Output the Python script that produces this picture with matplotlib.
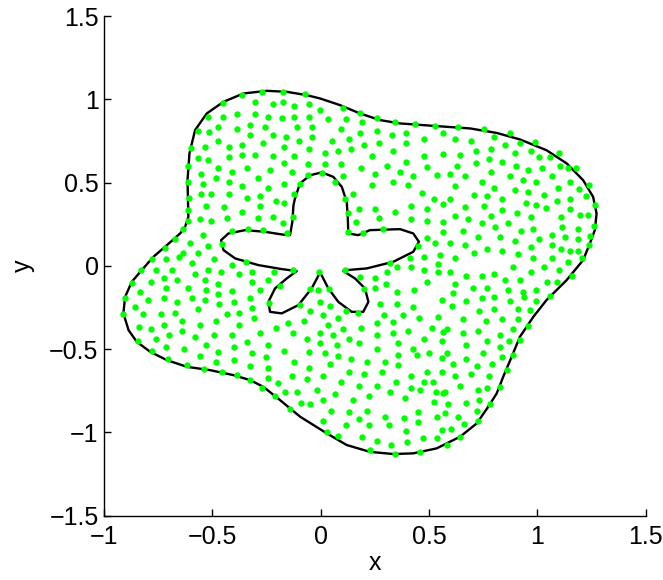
import numpy as np
import matplotlib
matplotlib.use("Agg")
import matplotlib.pyplot as plt

plt.rcParams['font.family'] = ['Liberation Sans', 'DejaVu Sans']

# outer boundary (clockwise from left)
outer_x = [-0.911, -0.903, -0.872, -0.826, -0.772, -0.710, -0.649, -0.626, -0.611, -0.615,
           -0.606, -0.580, -0.526, -0.449, -0.357, -0.249, -0.157, -0.065, -0.003, 0.089,
           0.181, 0.274, 0.366, 0.535, 0.689, 0.812, 0.919, 1.042, 1.135, 1.211,
           1.257, 1.273, 1.265, 1.242, 1.211, 1.173, 1.135, 1.042, 0.981, 0.919,
           0.881, 0.842, 0.812, 0.773, 0.720, 0.643, 0.535, 0.427, 0.335, 0.227,
           0.120, 0.028, -0.095, -0.188, -0.265, -0.326, -0.403, -0.511, -0.618, -0.710,
           -0.787, -0.849, -0.887]
outer_y = [-0.285, -0.186, -0.095, -0.025, 0.055, 0.125, 0.195, 0.235, 0.295, 0.515,
           0.676, 0.816, 0.916, 0.986, 1.036, 1.052, 1.046, 1.026, 1.006, 0.966,
           0.916, 0.876, 0.856, 0.840, 0.826, 0.799, 0.760, 0.695, 0.616, 0.515,
           0.415, 0.315, 0.215, 0.135, 0.035, -0.025, -0.085, -0.205, -0.306, -0.426,
           -0.546, -0.666, -0.766, -0.846, -0.946, -1.026, -1.096, -1.126, -1.130, -1.117,
           -1.076, -1.006, -0.906, -0.806, -0.726, -0.686, -0.656, -0.626, -0.606, -0.566,
           -0.516, -0.456, -0.386]

# inner five-petal hole
inner_x = [0.005, 0.058, 0.097, 0.120, 0.125, 0.127, 0.173, 0.227, 0.366, 0.427,
           0.453, 0.427, 0.335, 0.212, 0.120, 0.104, 0.158, 0.204, 0.220, 0.196,
           0.143, 0.081, 0.035, -0.003, -0.042, -0.103, -0.180, -0.234, -0.242, -0.211,
           -0.157, -0.111, -0.180, -0.288, -0.395, -0.449, -0.460, -0.426, -0.349, -0.257,
           -0.180, -0.142, -0.131, -0.126, -0.119, -0.096, -0.049]
inner_y = [0.562, 0.535, 0.475, 0.385, 0.285, 0.195, 0.185, 0.215, 0.221, 0.195,
           0.145, 0.085, 0.025, -0.015, -0.025, -0.031, -0.075, -0.135, -0.216, -0.276,
           -0.276, -0.216, -0.135, -0.039, -0.135, -0.235, -0.285, -0.276, -0.216, -0.135,
           -0.075, -0.031, -0.019, 0.005, 0.045, 0.095, 0.155, 0.195, 0.215, 0.205,
           0.189, 0.185, 0.265, 0.365, 0.405, 0.495, 0.545]

# green nodes, grouped by area of the picture
dots_nw = [
    [-0.365, 1.026], [-0.269, 1.046], [-0.449, 0.976], [-0.303, 0.986], [-0.219, 0.970],
    [-0.519, 0.896], [-0.449, 0.896], [-0.388, 0.910], [-0.303, 0.910], [-0.245, 0.896],
    [-0.565, 0.810], [-0.514, 0.806], [-0.472, 0.836], [-0.388, 0.822], [-0.326, 0.846],
    [-0.257, 0.834], [-0.326, 0.786], [-0.219, 0.786], [-0.598, 0.706], [-0.532, 0.712],
    [-0.472, 0.750], [-0.423, 0.712], [-0.365, 0.724], [-0.268, 0.736], [-0.568, 0.646],
    [-0.519, 0.638], [-0.423, 0.652], [-0.365, 0.664], [-0.303, 0.664], [-0.219, 0.662],
    [-0.611, 0.600], [-0.472, 0.590], [-0.411, 0.566], [-0.340, 0.590], [-0.233, 0.578],
    [-0.555, 0.554], [-0.485, 0.530], [-0.291, 0.530], [-0.614, 0.502], [-0.543, 0.492],
    [-0.423, 0.502], [-0.365, 0.482], [-0.242, 0.466], [-0.555, 0.432], [-0.506, 0.432],
    [-0.423, 0.432], [-0.340, 0.406], [-0.280, 0.420], [-0.208, 0.391], [-0.531, 0.361],
    [-0.448, 0.357], [-0.280, 0.359], [-0.365, 0.321], [-0.611, 0.339], [-0.558, 0.281],
    [-0.506, 0.271], [-0.435, 0.285], [-0.291, 0.285], [-0.219, 0.295], [-0.634, 0.219],
    [-0.411, 0.211], [-0.337, 0.221], [-0.265, 0.215], [-0.543, 0.185], [-0.672, 0.161],
    [-0.605, 0.135], [-0.519, 0.121], [-0.454, 0.129], [-0.718, 0.105], [-0.634, 0.075],
    [-0.568, 0.075], [-0.777, 0.041], [-0.712, 0.041], [-0.652, 0.051], [-0.592, 0.019],
    [-0.495, 0.039], [-0.411, 0.005], [-0.346, 0.025], [-0.608, 0.410], [-0.612, 0.270],
]
dots_n = [
    [-0.173, 1.042], [-0.073, 1.030], [-0.173, 0.986], [-0.123, 0.960], [-0.053, 0.970],
    [-0.003, 0.936], [0.101, 0.950], [0.181, 0.916], [-0.180, 0.886], [-0.123, 0.896],
    [-0.053, 0.896], [0.032, 0.882], [0.116, 0.882], [0.189, 0.866], [0.261, 0.886],
    [0.342, 0.866], [0.435, 0.850], [0.527, 0.842], [-0.111, 0.836], [-0.040, 0.832],
    [0.092, 0.822], [0.181, 0.800], [0.261, 0.812], [0.393, 0.800], [0.565, 0.800],
    [-0.160, 0.772], [-0.100, 0.750], [-0.040, 0.772], [0.053, 0.752], [0.129, 0.762],
    [0.330, 0.786], [0.476, 0.762], [-0.170, 0.712], [-0.053, 0.702], [0.138, 0.702],
    [0.199, 0.726], [0.270, 0.738], [0.393, 0.738], [-0.123, 0.662], [0.020, 0.676],
    [0.080, 0.690], [0.236, 0.662], [0.332, 0.688], [0.476, 0.662], [0.565, 0.672],
    [-0.170, 0.616], [-0.060, 0.610], [0.020, 0.612], [0.092, 0.612], [0.184, 0.590],
    [0.307, 0.602], [0.393, 0.626], [0.489, 0.596], [-0.134, 0.566], [0.104, 0.540],
    [0.249, 0.552], [0.365, 0.566], [0.427, 0.542], [0.535, 0.546], [0.007, 0.556],
    [-0.170, 0.491], [0.147, 0.435], [0.236, 0.486], [0.335, 0.506], [0.404, 0.486],
    [0.465, 0.441], [0.522, 0.405], [-0.170, 0.381], [0.178, 0.345], [0.250, 0.341],
    [0.344, 0.321], [0.415, 0.361], [0.489, 0.345], [0.565, 0.375], [-0.176, 0.255],
    [0.163, 0.265], [0.270, 0.285], [0.415, 0.281], [0.489, 0.269], [0.562, 0.265],
    [-0.130, 0.295], [-0.057, 0.546], [0.066, 0.506], [0.112, 0.405], [0.127, 0.205],
    [0.196, 0.195], [0.289, 0.221], [-0.154, 0.195], [0.489, 0.165], [0.527, 0.135],
    [0.565, 0.205], [0.319, 0.020], [0.412, 0.045], [0.476, 0.051], [0.550, 0.065],
    [-0.124, 0.430], [0.125, 0.320], [-0.098, 0.490], [0.450, 0.120],
]
dots_ne = [
    [0.635, 0.836], [0.754, 0.822], [0.873, 0.796], [0.619, 0.762], [0.693, 0.750],
    [0.801, 0.772], [0.850, 0.726], [0.920, 0.736], [0.991, 0.746], [0.644, 0.666],
    [0.716, 0.688], [0.788, 0.700], [0.896, 0.676], [0.970, 0.692], [1.007, 0.654],
    [1.059, 0.654], [1.099, 0.676], [0.631, 0.602], [0.716, 0.616], [0.777, 0.640],
    [0.837, 0.626], [0.899, 0.602], [0.957, 0.576], [1.019, 0.590], [1.102, 0.602],
    [1.142, 0.586], [1.180, 0.590], [0.596, 0.554], [0.668, 0.542], [0.788, 0.566],
    [0.873, 0.542], [0.934, 0.516], [0.993, 0.503], [1.065, 0.542], [0.619, 0.481],
    [0.742, 0.503], [0.801, 0.467], [0.896, 0.455], [0.957, 0.443], [1.031, 0.429],
    [1.093, 0.467], [1.151, 0.505], [1.191, 0.465], [1.237, 0.485], [0.596, 0.405],
    [0.705, 0.429], [0.765, 0.419], [0.837, 0.405], [0.947, 0.381], [0.993, 0.365],
    [1.090, 0.393], [1.151, 0.405], [1.222, 0.419], [0.668, 0.355], [0.754, 0.359],
    [0.837, 0.333], [0.908, 0.319], [1.040, 0.349], [1.151, 0.343], [1.266, 0.365],
    [0.619, 0.299], [0.681, 0.281], [0.742, 0.259], [0.788, 0.299], [0.862, 0.259],
    [0.970, 0.295], [1.111, 0.295], [1.197, 0.307], [1.234, 0.305], [0.658, 0.209],
    [0.804, 0.233], [0.922, 0.209], [0.980, 0.221], [1.065, 0.185], [1.114, 0.233],
    [1.185, 0.221], [1.263, 0.241], [0.596, 0.139], [0.668, 0.125], [0.728, 0.171],
    [0.827, 0.171], [0.896, 0.149], [1.007, 0.161], [1.065, 0.125], [1.127, 0.171],
    [1.185, 0.161], [1.243, 0.181], [0.765, 0.099], [0.837, 0.089], [0.911, 0.069],
    [0.970, 0.111], [1.108, 0.099], [1.150, 0.089], [1.188, 0.091], [1.237, 0.125],
    [0.619, 0.049], [0.705, 0.075], [0.980, 0.049], [1.065, 0.049], [1.142, 0.025],
    [1.205, 0.050], [0.540, 0.010],
]
dots_sw = [
    [-0.829, -0.025], [-0.761, -0.025], [-0.688, -0.025], [-0.522, -0.025], [-0.460, -0.035],
    [-0.377, -0.049], [-0.316, -0.035], [-0.214, -0.039], [-0.872, -0.105], [-0.783, -0.095],
    [-0.723, -0.075], [-0.665, -0.085], [-0.580, -0.049], [-0.534, -0.085], [-0.472, -0.109],
    [-0.411, -0.149], [-0.316, -0.095], [-0.245, -0.085], [-0.834, -0.155], [-0.714, -0.135],
    [-0.615, -0.135], [-0.531, -0.145], [-0.472, -0.171], [-0.326, -0.195], [-0.280, -0.145],
    [-0.903, -0.195], [-0.798, -0.205], [-0.723, -0.195], [-0.663, -0.219], [-0.592, -0.195],
    [-0.534, -0.205], [-0.469, -0.231], [-0.400, -0.219], [-0.316, -0.255], [-0.857, -0.245],
    [-0.568, -0.257], [-0.911, -0.291], [-0.821, -0.291], [-0.737, -0.291], [-0.675, -0.281],
    [-0.434, -0.291], [-0.377, -0.281], [-0.306, -0.315], [-0.641, -0.331], [-0.557, -0.355],
    [-0.485, -0.329], [-0.377, -0.355], [-0.841, -0.369], [-0.784, -0.377], [-0.723, -0.355],
    [-0.641, -0.391], [-0.580, -0.429], [-0.495, -0.415], [-0.411, -0.415], [-0.280, -0.405],
    [-0.208, -0.375], [-0.761, -0.439], [-0.700, -0.415], [-0.340, -0.455], [-0.844, -0.451],
    [-0.714, -0.487], [-0.629, -0.501], [-0.531, -0.475], [-0.400, -0.487], [-0.245, -0.475],
    [-0.780, -0.511], [-0.557, -0.539], [-0.472, -0.515], [-0.317, -0.525], [-0.254, -0.550],
    [-0.703, -0.560], [-0.485, -0.575], [-0.400, -0.564], [-0.326, -0.600], [-0.245, -0.612],
    [-0.618, -0.596], [-0.537, -0.620], [-0.457, -0.636], [-0.388, -0.656], [-0.242, -0.672],
    [-0.196, -0.706], [-0.326, -0.686], [-0.272, -0.732], [-0.211, -0.782], [-0.240, -0.220],
    [-0.190, -0.120],
]
dots_s = [
    [0.181, -0.069], [0.250, -0.075], [0.307, -0.039], [0.350, -0.005], [0.415, -0.005],
    [0.476, -0.025], [0.542, -0.035], [-0.011, -0.145], [0.249, -0.135], [0.301, -0.109],
    [0.353, -0.155], [0.430, -0.145], [0.489, -0.095], [-0.003, -0.215], [0.043, -0.241],
    [0.115, -0.270], [0.170, -0.285], [0.273, -0.231], [0.353, -0.229], [0.427, -0.245],
    [0.558, -0.205], [-0.050, -0.271], [0.009, -0.295], [0.080, -0.315], [0.292, -0.295],
    [0.378, -0.295], [0.455, -0.315], [0.542, -0.305], [-0.150, -0.345], [-0.076, -0.331],
    [0.032, -0.355], [0.104, -0.379], [0.186, -0.375], [0.259, -0.343], [0.332, -0.339],
    [0.404, -0.391], [0.512, -0.375], [-0.126, -0.405], [-0.003, -0.405], [0.055, -0.415],
    [0.261, -0.415], [0.332, -0.405], [0.476, -0.439], [0.565, -0.395], [-0.065, -0.439],
    [0.132, -0.439], [-0.003, -0.465], [0.073, -0.475], [0.176, -0.465], [0.261, -0.501],
    [0.355, -0.465], [0.427, -0.501], [0.499, -0.525], [-0.170, -0.511], [-0.053, -0.515],
    [0.018, -0.525], [0.081, -0.540], [0.139, -0.562], [0.212, -0.576], [0.296, -0.576],
    [0.358, -0.536], [0.442, -0.536], [0.558, -0.556], [-0.123, -0.576], [0.043, -0.590],
    [-0.053, -0.612], [0.130, -0.636], [0.199, -0.650], [0.281, -0.636], [0.358, -0.596],
    [0.415, -0.660], [0.489, -0.636], [0.558, -0.636], [-0.134, -0.660], [-0.065, -0.680],
    [0.009, -0.660], [0.092, -0.700], [0.176, -0.722], [0.261, -0.722], [0.347, -0.696],
    [0.416, -0.736], [0.476, -0.696], [0.519, -0.696], [-0.163, -0.756], [-0.111, -0.760],
    [-0.016, -0.748], [0.066, -0.768], [0.150, -0.808], [0.224, -0.782], [0.319, -0.760],
    [0.390, -0.796], [0.458, -0.746], [0.532, -0.756], [0.565, -0.766], [-0.093, -0.826],
    [-0.050, -0.832], [0.009, -0.806], [0.046, -0.870], [0.130, -0.880], [0.215, -0.870],
    [0.296, -0.906], [0.385, -0.916], [0.447, -0.876], [0.522, -0.816], [0.535, -0.906],
    [-0.142, -0.860], [0.009, -0.930], [0.116, -0.956], [0.178, -0.920], [0.224, -0.956],
    [0.313, -0.956], [0.393, -0.992], [0.450, -0.936], [0.558, -0.986], [0.027, -0.996],
    [0.081, -1.022], [0.189, -1.030], [0.261, -1.050], [0.322, -1.076], [0.396, -1.056],
    [0.473, -1.036], [0.535, -1.036], [0.227, -1.106], [0.342, -1.132], [0.458, -1.116],
    [-0.126, -0.025], [-0.007, -0.035], [0.112, -0.025], [-0.096, -0.235], [0.200, -0.140],
    [-0.050, -0.140], [0.040, -0.140],
]
dots_se = [
    [0.886, -0.009], [1.030, -0.009], [1.101, -0.025], [0.597, -0.035], [0.669, -0.059],
    [0.743, -0.059], [0.801, -0.049], [0.850, -0.085], [0.919, -0.085], [0.970, -0.035],
    [1.042, -0.099], [1.089, -0.099], [0.620, -0.109], [0.704, -0.135], [0.766, -0.135],
    [0.863, -0.147], [0.935, -0.159], [0.993, -0.147], [0.609, -0.165], [0.670, -0.209],
    [0.743, -0.195], [0.801, -0.185], [0.873, -0.209], [0.939, -0.185], [0.993, -0.209],
    [0.607, -0.241], [0.730, -0.269], [0.801, -0.259], [0.909, -0.259], [0.966, -0.265],
    [0.658, -0.319], [0.761, -0.331], [0.838, -0.319], [0.909, -0.319], [0.584, -0.379],
    [0.658, -0.401], [0.727, -0.391], [0.827, -0.415], [0.886, -0.379], [0.958, -0.359],
    [0.561, -0.451], [0.669, -0.475], [0.766, -0.451], [0.827, -0.489], [0.870, -0.451],
    [0.919, -0.445], [0.581, -0.525], [0.669, -0.561], [0.750, -0.525], [0.835, -0.545],
    [0.886, -0.535], [0.609, -0.590], [0.720, -0.602], [0.789, -0.590], [0.858, -0.626],
    [0.620, -0.662], [0.693, -0.650], [0.778, -0.662], [0.643, -0.722], [0.727, -0.746],
    [0.769, -0.736], [0.827, -0.726], [0.574, -0.760], [0.669, -0.822], [0.729, -0.806],
    [0.781, -0.830], [0.589, -0.830], [0.720, -0.870], [0.635, -0.906], [0.724, -0.930],
    [0.663, -0.950], [0.574, -0.886], [0.643, -1.026], [0.581, -1.076], [1.160, -0.060],
    [1.060, -0.180], [0.600, -0.980],
]

fig = plt.figure(figsize=(6.63, 5.80), dpi=100)
ax = fig.add_axes([0.157, 0.111, 0.817, 0.861])

ax.plot(outer_x + outer_x[:1], outer_y + outer_y[:1], color='black', lw=1.7,
        solid_joinstyle='round', zorder=2)
ax.plot(inner_x + inner_x[:1], inner_y + inner_y[:1], color='black', lw=1.7,
        solid_joinstyle='round', zorder=2)

pts = np.array(dots_nw + dots_n + dots_ne + dots_sw + dots_s + dots_se)
ax.plot(pts[:, 0], pts[:, 1], 'o', color='#00ff00', ms=4.6, mec='none', zorder=3)

ax.set_xlim(-1, 1.5)
ax.set_ylim(-1.5, 1.5)
ax.set_xticks([-1, -0.5, 0, 0.5, 1, 1.5])
ax.set_xticklabels(['\u22121', '\u22120.5', '0', '0.5', '1', '1.5'])
ax.set_yticks([-1.5, -1, -0.5, 0, 0.5, 1, 1.5])
ax.set_yticklabels(['\u22121.5', '\u22121', '\u22120.5', '0', '0.5', '1', '1.5'])
ax.spines['top'].set_visible(False)
ax.spines['right'].set_visible(False)
ax.spines['left'].set_linewidth(1.0)
ax.spines['bottom'].set_linewidth(1.0)
ax.tick_params(direction='in', length=5, width=1.0, labelsize=18)
ax.tick_params(axis='x', pad=7)
ax.tick_params(axis='y', pad=4)
ax.set_xlabel('x', fontsize=18, labelpad=1)
ax.set_ylabel('y', fontsize=18, labelpad=10)

fig.savefig('out.png', dpi=100)
